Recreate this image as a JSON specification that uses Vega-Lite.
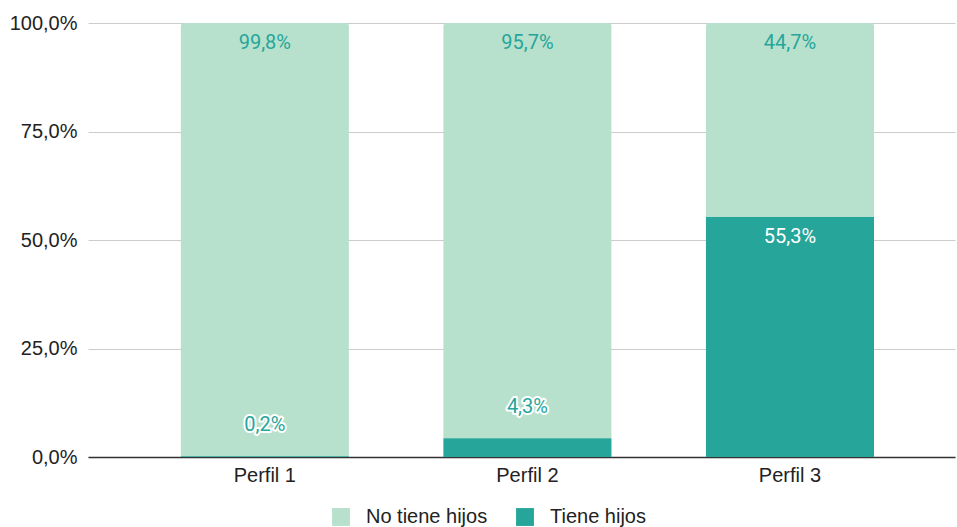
{
  "$schema": "https://vega.github.io/schema/vega-lite/v6.json",
  "width": 867,
  "height": 434,
  "autosize": {"type": "none"},
  "padding": {"left": 88, "top": 23, "right": 2, "bottom": 70},
  "background": "white",
  "config": {
    "locale": {"number": {"decimal": ",", "thousands": ".", "grouping": [3], "currency": ["", " €"]}},
    "view": {"stroke": null},
    "font": "Liberation Sans"
  },
  "data": {
    "values": [
      {"perfil": "Perfil 1", "serie": "No tiene hijos", "value": 0.998},
      {"perfil": "Perfil 1", "serie": "Tiene hijos", "value": 0.002},
      {"perfil": "Perfil 2", "serie": "No tiene hijos", "value": 0.957},
      {"perfil": "Perfil 2", "serie": "Tiene hijos", "value": 0.043},
      {"perfil": "Perfil 3", "serie": "No tiene hijos", "value": 0.447},
      {"perfil": "Perfil 3", "serie": "Tiene hijos", "value": 0.553}
    ]
  },
  "transform": [
    {"stack": "value", "groupby": ["perfil"], "as": ["y0", "y1"], "sort": [{"field": "serie", "order": "descending"}]}
  ],
  "encoding": {
    "x": {
      "field": "perfil", "type": "nominal", "title": null,
      "scale": {"paddingInner": 0.36, "paddingOuter": 0.331, "align": 0.534},
      "axis": {"labelAngle": 0, "labelFontSize": 20, "labelColor": "#222222", "labelPadding": 8, "ticks": false, "domainColor": "#333333", "domainWidth": 1.5, "labelFont": "Liberation Sans"}
    },
    "y": {
      "field": "y1", "type": "quantitative", "title": null,
      "scale": {"domain": [0, 1]},
      "axis": {"values": [0, 0.25, 0.5, 0.75, 1], "format": ".1%", "labelFontSize": 20, "labelColor": "#222222", "labelPadding": 11, "ticks": false, "domain": false, "gridColor": "#cccccc", "gridWidth": 1, "labelFont": "Liberation Sans"}
    }
  },
  "layer": [
    {
      "transform": [{"filter": "datum.serie === 'No tiene hijos'"}],
      "mark": {"type": "bar", "cornerRadiusTopLeft": 3, "cornerRadiusTopRight": 3},
      "encoding": {
        "y2": {"field": "y0"},
        "color": {
          "field": "serie", "type": "nominal", "title": null,
          "scale": {"domain": ["No tiene hijos", "Tiene hijos"], "range": ["#b7e1cd", "#26a69a"]},
          "legend": {"orient": "none", "legendX": 243, "legendY": 484, "direction": "horizontal", "symbolType": "square", "symbolSize": 320, "symbolStrokeWidth": 0, "labelFontSize": 20, "labelColor": "#222222", "labelOffset": 15, "columnPadding": 27, "labelFont": "Liberation Sans"}
        }
      }
    },
    {
      "transform": [{"filter": "datum.serie === 'Tiene hijos'"}],
      "mark": {"type": "bar"},
      "encoding": {
        "y2": {"field": "y0"},
        "color": {"field": "serie", "type": "nominal"}
      }
    },
    {
      "transform": [{"filter": "datum.value >= 0.1"}],
      "mark": {"type": "text", "baseline": "middle", "dy": 20, "fontSize": 20, "font": "Roboto"},
      "encoding": {
        "text": {"field": "value", "type": "quantitative", "format": ".1%"},
        "color": {"condition": {"test": "datum.serie === 'Tiene hijos'", "value": "#ffffff"}, "value": "#26a69a"}
      }
    },
    {
      "transform": [{"filter": "datum.value < 0.1"}],
      "mark": {"type": "text", "baseline": "middle", "dy": -31, "fontSize": 20, "font": "Roboto", "stroke": "#ffffff", "strokeWidth": 4, "strokeJoin": "round", "fill": "#ffffff"},
      "encoding": {
        "text": {"field": "value", "type": "quantitative", "format": ".1%"}
      }
    },
    {
      "transform": [{"filter": "datum.value < 0.1"}],
      "mark": {"type": "text", "baseline": "middle", "dy": -31, "fontSize": 20, "font": "Roboto", "fill": "#26a69a"},
      "encoding": {
        "text": {"field": "value", "type": "quantitative", "format": ".1%"}
      }
    }
  ]
}
